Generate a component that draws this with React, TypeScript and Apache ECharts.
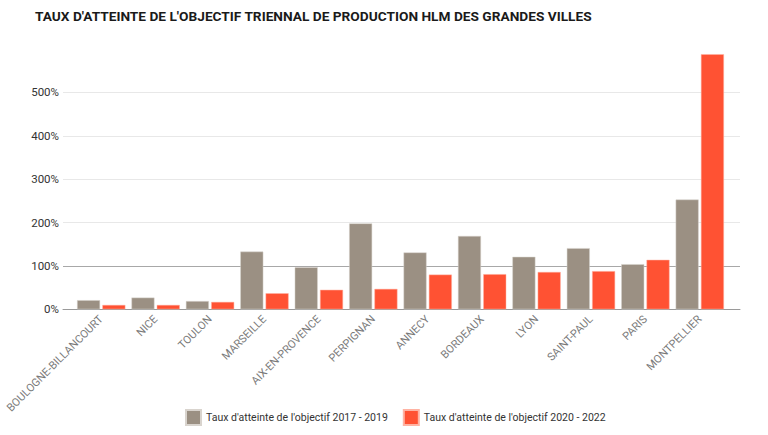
import React, { useEffect, useRef } from "react";
import * as echarts from "echarts";

const categories = [
  "BOULOGNE-BILLANCOURT",
  "NICE",
  "TOULON",
  "MARSEILLE",
  "AIX-EN-PROVENCE",
  "PERPIGNAN",
  "ANNECY",
  "BORDEAUX",
  "LYON",
  "SAINT-PAUL",
  "PARIS",
  "MONTPELLIER",
];
const rate2017_2019 = [21, 27, 19, 133, 97, 198, 131, 169, 121, 141, 104, 253];
const rate2020_2022 = [10, 10, 17, 37, 45, 47, 80, 81, 86, 88, 114, 588];
const seriesNames = [
  "Taux d'atteinte de l'objectif 2017 - 2019",
  "Taux d'atteinte de l'objectif 2020 - 2022",
];
const titleText =
  "TAUX D'ATTEINTE DE L'OBJECTIF TRIENNAL DE PRODUCTION HLM DES GRANDES VILLES";

export default function App() {
  const ref = useRef<HTMLDivElement>(null);
  useEffect(() => {
    document.body.style.margin = "0";
    const chart = echarts.init(ref.current!, undefined, { renderer: "svg" });
    const top = 49;
    const bottom = 125.7;
    chart.setOption({
      animation: false,
      backgroundColor: "#ffffff",
      textStyle: { fontFamily: "Roboto" },
      title: {
        text: titleText,
        left: 30,
        top: 4,
        textStyle: {
          fontFamily: "Roboto",
          fontSize: 13.7,
          fontWeight: "bold",
          color: "#1a1a1a",
        },
      },
      legend: {
        data: seriesNames,
        left: 180,
        top: 404,
        itemWidth: 15,
        itemHeight: 15,
        itemGap: 15,
        icon: "rect",
        textStyle: { fontFamily: "Roboto", fontSize: 10.5, color: "#333" },
      },
      grid: [
        { left: 74, right: 41, top, bottom, containLabel: false },
        { left: 63, right: 28, top, bottom, containLabel: false },
      ],
      xAxis: [
        {
          type: "category",
          gridIndex: 0,
          data: categories,
          axisLine: { show: false },
          axisTick: { show: false },
          axisLabel: {
            interval: 0,
            rotate: 45,
            margin: 8,
            color: "#7a7a7a",
            fontSize: 11,
            fontFamily: "Roboto",
          },
        },
        {
          type: "category",
          gridIndex: 1,
          data: [""],
          axisLine: { show: true, lineStyle: { color: "#9a9a9a", width: 1 } },
          axisTick: { show: false },
          axisLabel: { show: false },
          splitLine: { show: false },
        },
      ],
      yAxis: [
        {
          type: "value",
          gridIndex: 0,
          min: 0,
          max: 600,
          interval: 100,
          show: false,
          splitLine: { show: false },
        },
        {
          type: "value",
          gridIndex: 1,
          min: 0,
          max: 600,
          interval: 100,
          axisLine: { show: false },
          axisTick: { show: false },
          axisLabel: {
            formatter: "{value}%",
            color: "#333",
            fontSize: 11.5,
            margin: 4,
            fontFamily: "Roboto",
            showMaxLabel: false,
          },
          splitLine: {
            show: true,
            showMaxLine: false,
            lineStyle: {
              color: ["#9a9a9a", "#a8a8a8", "#e8e8e8", "#e8e8e8", "#e8e8e8", "#e8e8e8", "#e8e8e8"],
              width: 1,
            },
          },
        },
      ],
      series: [
        {
          name: seriesNames[0],
          type: "bar",
          xAxisIndex: 0,
          yAxisIndex: 0,
          data: rate2017_2019,
          barWidth: 23,
          barGap: "10%",
          itemStyle: { color: "#9b9083", borderColor: "#d9d4ce", borderWidth: 0.5 },
        },
        {
          name: seriesNames[1],
          type: "bar",
          xAxisIndex: 0,
          yAxisIndex: 0,
          data: rate2020_2022,
          barWidth: 23,
          barGap: "10%",
          itemStyle: { color: "#ff5233", borderColor: "#ffb3a3", borderWidth: 0.5 },
        },
      ],
    });
    return () => chart.dispose();
  }, []);
  return <div ref={ref} style={{ width: 768, height: 435 }} />;
}
